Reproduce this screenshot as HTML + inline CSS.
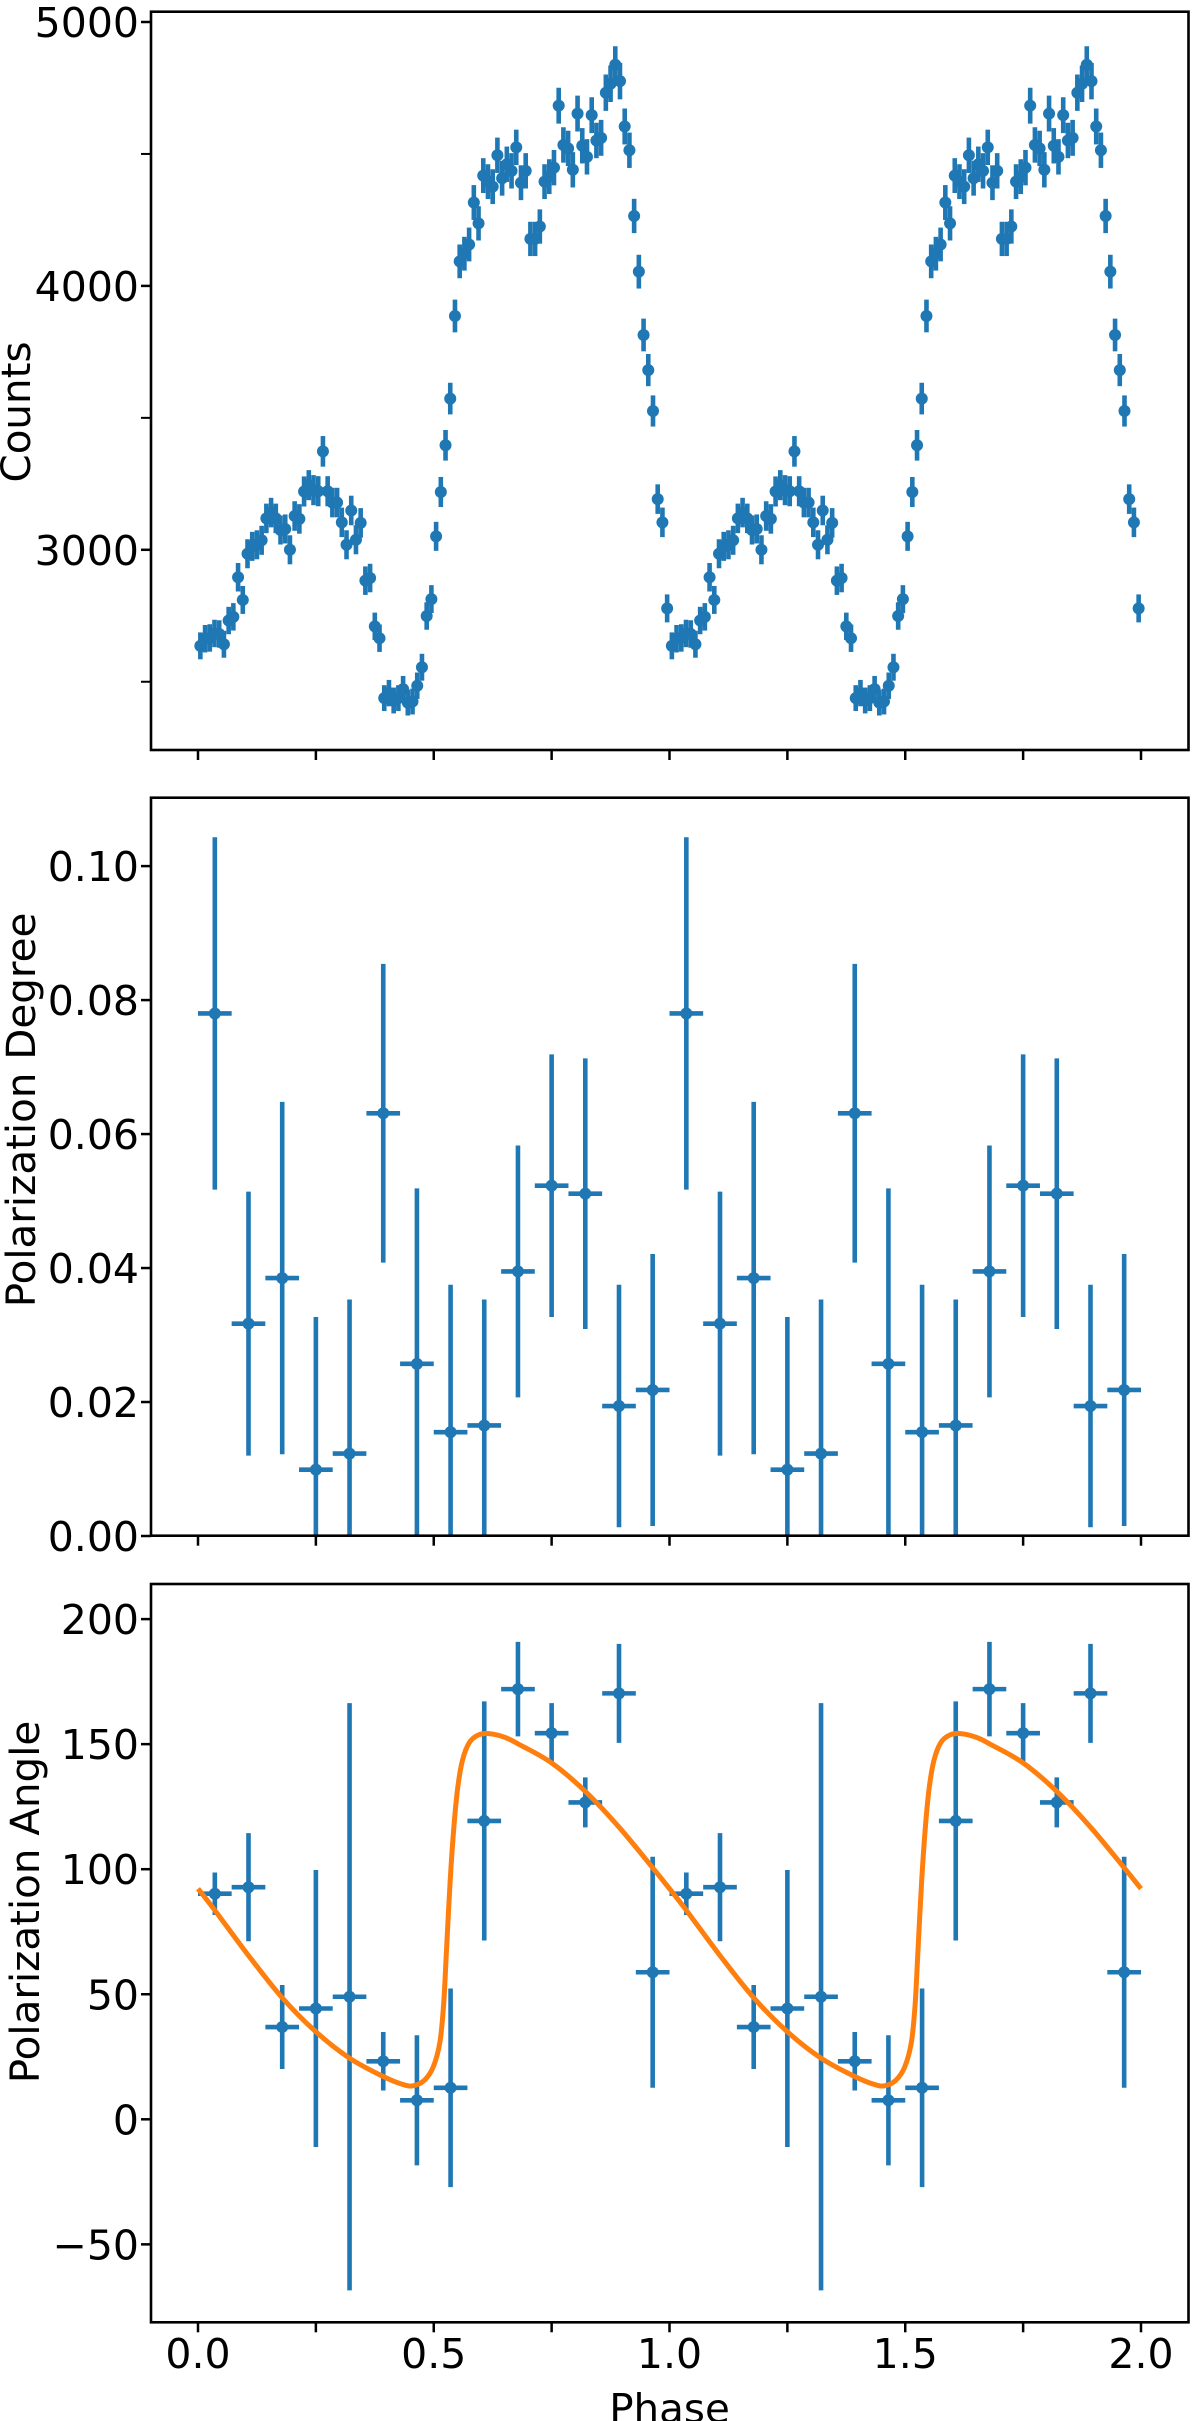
<!DOCTYPE html>
<html lang="en">
<head>
<meta charset="utf-8">
<title>Phase-folded counts and polarization</title>
<style>
html,body{margin:0;padding:0;background:#fff;width:1200px;height:2421px;overflow:hidden}
svg{display:block}
text{font-family:"DejaVu Sans","Liberation Sans",sans-serif;fill:#000}
.tl{font-size:41px}
.al{font-size:40.4px}
</style>
</head>
<body>
<svg id="chart" xmlns="http://www.w3.org/2000/svg" width="1200" height="2421" viewBox="0 0 1200 2421">
<rect x="0" y="0" width="1200" height="2421" fill="#fff"/>
<defs>
<clipPath id="clip1"><rect x="151" y="11.7" width="1037.5" height="738.3"/></clipPath>
<clipPath id="clip2"><rect x="151" y="797.7" width="1037.5" height="738"/></clipPath>
<clipPath id="clip3"><rect x="151" y="1584" width="1037.5" height="738.3"/></clipPath>
</defs>
<g id="counts-panel"></g>
<g id="degree-panel"></g>
<g id="angle-panel"></g>
<text class="al" transform="translate(30,412) rotate(-90)" text-anchor="middle">Counts</text>
<text class="al" transform="translate(35,1110) rotate(-90)" text-anchor="middle">Polarization Degree</text>
<text class="al" transform="translate(39,1902) rotate(-90)" text-anchor="middle">Polarization Angle</text>
<text class="al" x="669.5" y="2422.5" text-anchor="middle">Phase</text>
</svg>
<script>
const countPhases = [0.005,0.015,0.025,0.035,0.045,0.055,0.065,0.075,0.085,0.095,0.105,0.115,0.125,0.135,0.145,0.155,0.165,0.175,0.185,0.195,0.205,0.215,0.225,0.235,0.245,0.255,0.265,0.275,0.285,0.295,0.305,0.315,0.325,0.335,0.345,0.355,0.365,0.375,0.385,0.395,0.405,0.415,0.425,0.435,0.445,0.455,0.465,0.475,0.485,0.495,0.505,0.515,0.525,0.535,0.545,0.555,0.565,0.575,0.585,0.595,0.605,0.615,0.625,0.635,0.645,0.655,0.665,0.675,0.685,0.695,0.705,0.715,0.725,0.735,0.745,0.755,0.765,0.775,0.785,0.795,0.805,0.815,0.825,0.835,0.845,0.855,0.865,0.875,0.885,0.895,0.905,0.915,0.925,0.935,0.945,0.955,0.965,0.975,0.985,0.995];
const countValues = [2636,2663,2666,2683,2681,2642,2732,2746,2896,2810,2985,3013,3019,3036,3119,3141,3119,3075,3079,3000,3128,3117,3221,3245,3226,3222,3373,3222,3179,3179,3104,3019,3149,3038,3102,2883,2893,2710,2665,2438,2457,2429,2438,2472,2421,2425,2485,2555,2749,2813,3051,3219,3396,3573,3886,4093,4122,4157,4316,4237,4418,4395,4376,4495,4408,4461,4436,4525,4391,4436,4178,4178,4225,4395,4414,4448,4683,4534,4521,4440,4653,4531,4489,4647,4551,4561,4732,4766,4838,4776,4604,4514,4265,4054,3814,3681,3526,3192,3104,2778];
const countErrors = [51,52,52,52,52,51,52,52,54,53,55,55,55,55,56,56,56,55,55,55,56,56,57,57,57,57,58,57,56,56,56,55,56,55,56,54,54,52,52,49,50,49,49,50,49,49,50,51,52,53,55,57,58,60,62,64,64,64,66,65,66,66,66,67,66,67,67,67,66,67,65,65,65,66,66,67,68,67,67,67,68,67,67,68,67,68,69,69,70,69,68,67,65,64,62,61,59,56,56,53];
const polPhases = [0.0357,0.1071,0.1786,0.25,0.3214,0.3929,0.4643,0.5357,0.6071,0.6786,0.75,0.8214,0.8929,0.9643];
const polHalfWidths = [0.0357,0.0357,0.0357,0.0357,0.0357,0.0357,0.0357,0.0357,0.0357,0.0357,0.0357,0.0357,0.0357,0.0357];
const degreeValues = [0.0780,0.0317,0.0385,0.0099,0.0123,0.0631,0.0257,0.0155,0.0165,0.0395,0.0523,0.0511,0.0194,0.0218];
const degreeErrors = [0.0263,0.0197,0.0263,0.0228,0.0230,0.0223,0.0262,0.0220,0.0188,0.0188,0.0196,0.0202,0.0181,0.0203];
const angleValues = [90.2,92.8,36.9,44.3,49,23.2,7.6,12.6,119.3,172,154.4,126.7,170.3,58.8];
const angleErrors = [8.5,21.6,16.8,55.4,117.4,11.7,26,39.7,47.8,18.9,12,10,19.8,46.2];
const modelPhases = [0,0.036,0.107,0.179,0.25,0.321,0.393,0.433,0.456,0.48,0.499,0.513,0.521,0.527,0.535,0.543,0.551,0.561,0.575,0.594,0.617,0.651,0.679,0.75,0.822,0.893,0.965,1];
const modelAngles = [92.2,83.5,65.5,48.5,35,24.5,17.1,14,13.4,15.6,21,30.8,46,67.5,95.9,117.6,132.8,143.6,150.5,153.6,154.2,152.7,150.1,142.5,131,116.8,100.4,92.2];
const cycleOffsets = [0,1];
const xTicks = [0,0.25,0.5,0.75,1,1.25,1.5,1.75,2];
const xTickLabels = ["0.0","","0.5","","1.0","","1.5","","2.0"];
const countTicks = [2500,3000,3500,4000,4500,5000];
const countTickLabels = ["","3000","","4000","","5000"];
const degreeTicks = [0,0.02,0.04,0.06,0.08,0.1];
const degreeTickLabels = ["0.00","0.02","0.04","0.06","0.08","0.10"];
const angleTicks = [-50,0,50,100,150,200];
const angleTickLabels = ["\u221250","0","50","100","150","200"];

const NS = "http://www.w3.org/2000/svg";
const BLUE = "#1f77b4", ORANGE = "#ff7f0e";
const LEFT = 151, RIGHT = 1188.5;
function x(p){ return 198 + 471.5 * p; }
function yCounts(v){ return 549.8 + (3000 - v) * 0.2639; }
function yDegree(v){ return 1536 - v * 6699; }
function yAngle(v){ return 2119.3 - v * 2.501; }

function node(tag, attrs, parent){
  const el = document.createElementNS(NS, tag);
  for (const k in attrs) el.setAttribute(k, attrs[k]);
  parent.appendChild(el);
  return el;
}
function line(parent, x1, y1, x2, y2, color, w){
  return node("line", {x1:x1, y1:y1, x2:x2, y2:y2, stroke:color, "stroke-width":w}, parent);
}
function dot(parent, cx, cy, r){
  return node("circle", {cx:cx, cy:cy, r:r, fill:BLUE}, parent);
}
function smoothPath(pts){
  let d = "M" + pts[0][0].toFixed(2) + " " + pts[0][1].toFixed(2);
  for (let i = 0; i < pts.length - 1; i++) {
    const p0 = pts[Math.max(i - 1, 0)], p1 = pts[i], p2 = pts[i + 1], p3 = pts[Math.min(i + 2, pts.length - 1)];
    const c1x = p1[0] + (p2[0] - p0[0]) / 6, c1y = p1[1] + (p2[1] - p0[1]) / 6;
    const c2x = p2[0] - (p3[0] - p1[0]) / 6, c2y = p2[1] - (p3[1] - p1[1]) / 6;
    d += "C" + c1x.toFixed(2) + " " + c1y.toFixed(2) + " " + c2x.toFixed(2) + " " + c2y.toFixed(2) + " " + p2[0].toFixed(2) + " " + p2[1].toFixed(2);
  }
  return d;
}

function drawAxes(panel, top, bottom, yFn, ticks, labels, showX){
  xTicks.forEach(function(t, i){
    const tk = line(panel, x(t), bottom, x(t), bottom + 10, "#000", 2.5);
    
    
    if (showX && xTickLabels[i]) {
      const lb = node("text", {x:x(t), y:bottom + 45.5, "text-anchor":"middle", "class":"tl"}, panel);
      lb.textContent = xTickLabels[i];
      
      
    }
  });
  ticks.forEach(function(t, i){
    const tk = line(panel, LEFT - 10, yFn(t), LEFT, yFn(t), "#000", labels[i] ? 2.5 : 2);
    
    
    if (labels[i]) {
      const lb = node("text", {x:139, y:yFn(t) + 15, "text-anchor":"end", "class":"tl"}, panel);
      lb.textContent = labels[i];
      
      
    }
  });
  const frame = node("rect", {x:LEFT, y:top, width:RIGHT - LEFT, height:bottom - top, fill:"none", stroke:"#000", "stroke-width":2.6}, panel);
  
  
}

/* counts panel */
(function(){
  const panel = document.getElementById("counts-panel");
  const g = node("g", {"clip-path":"url(#clip1)"}, panel);
  
  
  cycleOffsets.forEach(function(off){
    countValues.forEach(function(v, i){
      const px = x(countPhases[i] + off);
      const bar = line(g, px, yCounts(v + countErrors[i]), px, yCounts(v - countErrors[i]), BLUE, 4.6);
      
      
      const pt = dot(g, px, yCounts(v), 6);
      
      
    });
  });
  drawAxes(panel, 11.7, 750, yCounts, countTicks, countTickLabels, false);
})();

/* shared cross-shaped error bar series */
function drawPol(panel, clip, name, yFn, values, errors){
  const g = node("g", {"clip-path":"url(#" + clip + ")"}, panel);
  
  
  cycleOffsets.forEach(function(off){
    values.forEach(function(v, i){
      const p = polPhases[i] + off;
      const vb = line(g, x(p), yFn(v + errors[i]), x(p), yFn(v - errors[i]), BLUE, 4.6);
      
      
      const hb = line(g, x(p - polHalfWidths[i]), yFn(v), x(p + polHalfWidths[i]), yFn(v), BLUE, 4.6);
      
      
      const pt = dot(g, x(p), yFn(v), 6);
      
      
    });
  });
  return g;
}

(function(){
  const panel = document.getElementById("degree-panel");
  drawPol(panel, "clip2", "degree", yDegree, degreeValues, degreeErrors);
  drawAxes(panel, 797.7, 1535.7, yDegree, degreeTicks, degreeTickLabels, false);
})();

(function(){
  const panel = document.getElementById("angle-panel");
  const g = drawPol(panel, "clip3", "angle", yAngle, angleValues, angleErrors);
  const pts = [];
  cycleOffsets.forEach(function(off){
    modelAngles.forEach(function(a, i){
      if (off > 0 && i === 0) return;
      pts.push([x(modelPhases[i] + off), yAngle(a)]);
    });
  });
  const curve = node("path", {d:smoothPath(pts), fill:"none", stroke:ORANGE, "stroke-width":5, "stroke-linejoin":"round"}, g);
  
  
  drawAxes(panel, 1584, 2322.3, yAngle, angleTicks, angleTickLabels, true);
})();
</script>
</body>
</html>
